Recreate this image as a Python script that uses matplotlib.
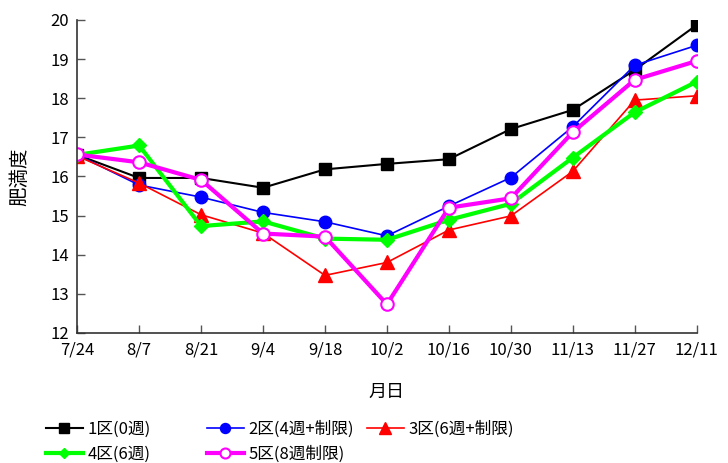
import matplotlib.pyplot as plt
import numpy as np

plt.rcParams['font.family'] = ['Noto Sans CJK JP', 'DejaVu Sans']

dates = ['7/24', '8/7', '8/21', '9/4', '9/18', '10/2', '10/16', '10/30',
         '11/13', '11/27', '12/11']

ku1 = [16.55, 15.96, 15.96, 15.71, 16.18, 16.32, 16.44, 17.21, 17.70, 18.72, 19.87]
ku2 = [16.55, 15.78, 15.47, 15.08, 14.84, 14.48, 15.24, 15.97, 17.27, 18.84, 19.35]
ku3 = [16.52, 15.83, 15.02, 14.55, 13.47, 13.80, 14.63, 14.99, 16.13, 17.95, 18.06]
ku4 = [16.55, 16.79, 14.73, 14.85, 14.41, 14.38, 14.89, 15.30, 16.48, 17.64, 18.42]
ku5 = [16.56, 16.36, 15.91, 14.54, 14.46, 12.73, 15.20, 15.44, 17.13, 18.47, 18.95]

labels = ['1区(0週)', '2区(4週+制限)', '3区(6週+制限)', '4区(6週)', '5区(8週制限)']

fig = plt.figure(figsize=(7.28, 4.63), dpi=100)
ax = fig.add_axes([0.106, 0.281, 0.851, 0.676])

x = np.arange(len(dates))
h1, = ax.plot(x, ku1, color='black', lw=1.5, marker='s', ms=9)
h2, = ax.plot(x, ku2, color='#0000ff', lw=1.2, marker='o', ms=9)
h3, = ax.plot(x, ku3, color='#ff0000', lw=1.2, marker='^', ms=10)
h4, = ax.plot(x, ku4, color='#00ff00', lw=3, marker='D', ms=7)
h5, = ax.plot(x, ku5, color='#ff00ff', lw=3, marker='o', ms=9, mfc='white',
              mew=1.5)

ax.set_xlim(0, len(dates) - 1)
ax.set_ylim(12, 20)
ax.set_xticks(x)
ax.set_xticklabels(dates)
ax.set_yticks(np.arange(12, 21, 1))
ax.tick_params(direction='in', length=6, width=1, color='#555555',
               labelsize=12, pad=6)
for s in ['top', 'right']:
    ax.spines[s].set_visible(False)
for s in ['left', 'bottom']:
    ax.spines[s].set_color('#333333')
    ax.spines[s].set_linewidth(1.2)

ax.set_xlabel('月日', fontsize=13, labelpad=18)
ax.set_ylabel('肥満度', fontsize=14, labelpad=14)

# 凡例は列ごとに配置する（Excel風の等幅の列）
handles = [h1, h2, h3, h4, h5]
columns = [[0, 3], [1, 4], [2]]
col_x = [46, 207, 367]
for cx, idx in zip(col_x, columns):
    leg = fig.legend(handles=[handles[i] for i in idx],
                     labels=[labels[i] for i in idx],
                     loc='upper left', bbox_to_anchor=(cx / 728, 1 - 421 / 463),
                     frameon=False, fontsize=12, handlelength=2.2,
                     labelspacing=0.45, handletextpad=0.3, markerscale=0.8,
                     borderpad=0, borderaxespad=0)

fig.savefig('out.png', dpi=100)
